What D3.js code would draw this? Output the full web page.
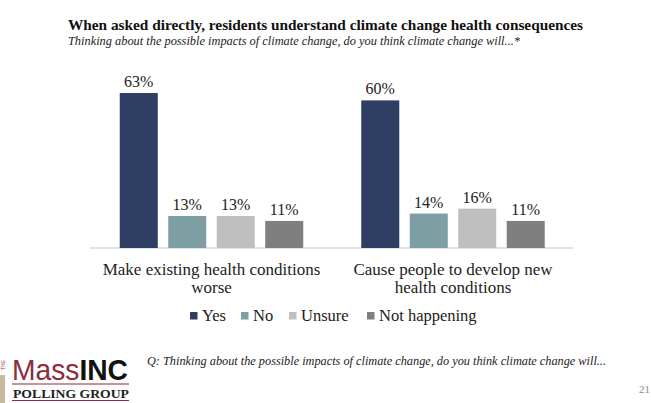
<!DOCTYPE html>
<html>
<head>
<meta charset="utf-8">
<script src="https://cdn.jsdelivr.net/npm/d3@7"></script>
<style>
  body { margin: 0; background: #fff; }
  svg { display: block; font-family: "Liberation Serif", "DejaVu Serif", serif; }
</style>
</head>
<body>
<div id="chart"></div>
<script>
// Chart data
const categories = [
    ["Make existing health conditions", "worse"],
    ["Cause people to develop new", "health conditions"]
];
const series = ["Yes", "No", "Unsure", "Not happening"];
const yesValues = [63, 60];
const noValues = [13, 14];
const unsureValues = [13, 16];
const notHappeningValues = [11, 11];
const colors = ["#2f3e63", "#7d9ea2", "#bfbfbf", "#7f7f7f"];

const values = [yesValues, noValues, unsureValues, notHappeningValues];

const width = 651,
    height = 403;

const svg = d3.select("#chart")
    .append("svg")
    .attr("width", width)
    .attr("height", height);

// Title and subtitle
svg.append("text")
    .attr("x", 68)
    .attr("y", 30)
    .attr("font-weight", "bold")
    .attr("font-size", 15.5)
    .attr("fill", "#111")
    .attr("textLength", 515)
    .attr("lengthAdjust", "spacingAndGlyphs")
    .text("When asked directly, residents understand climate change health consequences");

svg.append("text")
    .attr("x", 68)
    .attr("y", 45)
    .attr("font-style", "italic")
    .attr("font-size", 12)
    .attr("fill", "#222")
    .attr("textLength", 452)
    .attr("lengthAdjust", "spacingAndGlyphs")
    .text("Thinking about the possible impacts of climate change, do you think climate change will...*");

// Scales
const x0 = d3.scaleBand()
    .domain(d3.range(categories.length))
    .range([90.75, 573.75])
    .padding(0);

const x1 = d3.scaleBand()
    .domain(series)
    .range([-91.75, 91.75])
    .paddingInner(0.216)
    .paddingOuter(0);

const y = d3.scaleLinear()
    .domain([0, 100])
    .range([248, 2]);

// Baseline
svg.append("line")
    .attr("x1", 90)
    .attr("x2", 573)
    .attr("y1", y(0))
    .attr("y2", y(0))
    .attr("stroke", "#d9d9d9")
    .attr("stroke-width", 1.5);

// Bars and value labels
const groups = svg.selectAll("g.group")
    .data(categories)
    .enter()
    .append("g")
    .attr("class", "group")
    .attr("transform", (d, i) => "translate(" + (x0(i) + x0.bandwidth() / 2) + ",0)");

groups.each(function (cat, ci) {
    const g = d3.select(this);
    series.forEach(function (s, si) {
        const v = values[si][ci];
        g.append("rect")
            .attr("x", x1(s))
            .attr("y", y(v))
            .attr("width", x1.bandwidth())
            .attr("height", y(0) - y(v))
            .attr("fill", colors[si]);
        g.append("text")
            .attr("x", x1(s) + x1.bandwidth() / 2)
            .attr("y", y(v) - 6)
            .attr("text-anchor", "middle")
            .attr("font-size", 16)
            .attr("fill", "#222")
            .text(v + "%");
    });
    // category label
    g.selectAll("text.cat")
        .data(cat)
        .enter()
        .append("text")
        .attr("class", "cat")
        .attr("x", 0)
        .attr("y", (d, li) => 275 + li * 18)
        .attr("text-anchor", "middle")
        .attr("font-size", 17)
        .attr("fill", "#222")
        .text(d => d);
});

// Legend
const legendX = [190, 241, 289, 367];
const legend = svg.selectAll("g.legend")
    .data(series)
    .enter()
    .append("g")
    .attr("class", "legend")
    .attr("transform", (d, i) => "translate(" + legendX[i] + ",312)");

legend.append("rect")
    .attr("width", 7.5)
    .attr("height", 7.5)
    .attr("fill", (d, i) => colors[i]);

legend.append("text")
    .attr("x", 12)
    .attr("y", 8.5)
    .attr("font-size", 16.5)
    .attr("fill", "#222")
    .text(d => d);

// Footer note
svg.append("text")
    .attr("x", 147)
    .attr("y", 365)
    .attr("font-style", "italic")
    .attr("font-size", 11.5)
    .attr("fill", "#222")
    .attr("textLength", 459)
    .attr("lengthAdjust", "spacingAndGlyphs")
    .text("Q: Thinking about the possible impacts of climate change, do you think climate change will...");

svg.append("text")
    .attr("x", 650)
    .attr("y", 393)
    .attr("text-anchor", "end")
    .attr("font-size", 11)
    .attr("fill", "#8c8c8c")
    .text("21");

// Logo
const logo = svg.append("g");
logo.append("rect")
    .attr("x", 0).attr("y", 375)
    .attr("width", 5).attr("height", 28)
    .attr("fill", "#c8b9a0");
logo.append("text")
    .attr("transform", "translate(5,370) rotate(-90)")
    .attr("font-size", 5)
    .attr("font-family", "Liberation Sans, sans-serif")
    .attr("fill", "#8c2d3c")
    .text("THE");
const massText = logo.append("text")
    .attr("x", 12)
    .attr("y", 380)
    .attr("font-size", 30)
    .attr("font-family", "'Liberation Sans Narrow', 'Liberation Sans', sans-serif")
    .attr("textLength", 116)
    .attr("lengthAdjust", "spacingAndGlyphs");
massText.append("tspan").attr("fill", "#8c2d3c").text("Mass");
massText.append("tspan").attr("fill", "#111").attr("font-weight", "bold").text("INC");
logo.append("line")
    .attr("x1", 12).attr("x2", 129)
    .attr("y1", 384).attr("y2", 384)
    .attr("stroke", "#8c2d3c").attr("stroke-width", 1.2);
logo.append("text")
    .attr("x", 13)
    .attr("y", 397.5)
    .attr("font-size", 12.5)
    .attr("font-weight", "bold")
    .attr("fill", "#222")
    .attr("textLength", 116)
    .attr("lengthAdjust", "spacingAndGlyphs")
    .text("POLLING GROUP");
logo.append("line")
    .attr("x1", 12).attr("x2", 129)
    .attr("y1", 400.5).attr("y2", 400.5)
    .attr("stroke", "#8c2d3c").attr("stroke-width", 1.2);
</script>
</body>
</html>
